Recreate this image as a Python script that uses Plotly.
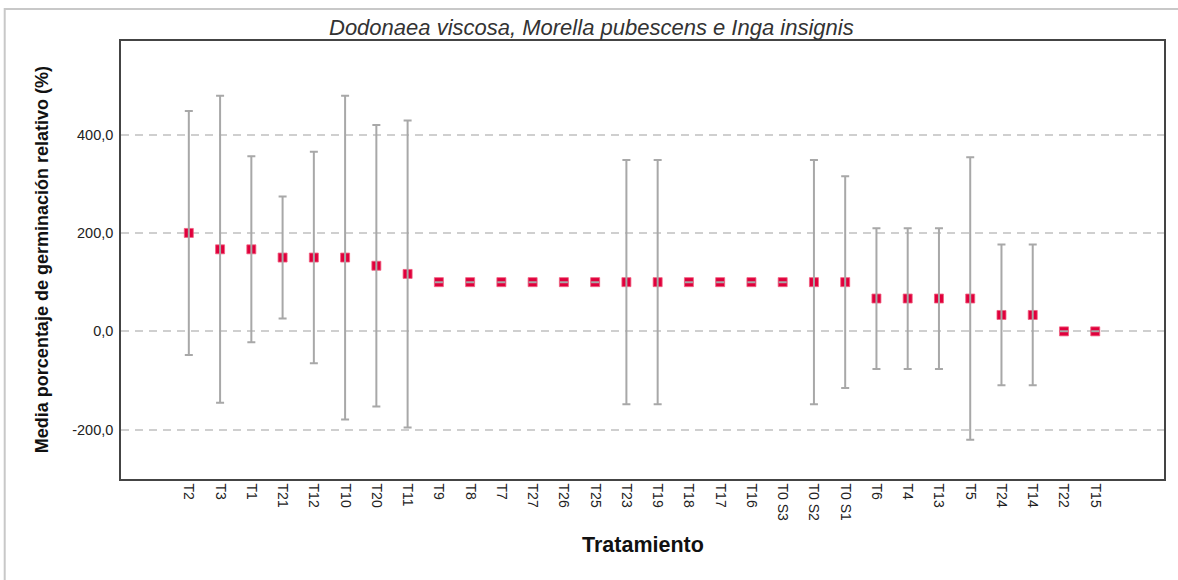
import plotly.graph_objects as go

tratamientos = ["T2", "T3", "T1", "T21", "T12", "T10", "T20", "T11", "T9", "T8",
                "T7", "T27", "T26", "T25", "T23", "T19", "T18", "T17", "T16", "T0 S3",
                "T0 S2", "T0 S1", "T6", "T4", "T13", "T5", "T24", "T14", "T22", "T15"]
medias = [200.0, 166.7, 166.7, 150.0, 150.0, 150.0, 133.3, 116.7, 100.0, 100.0,
          100.0, 100.0, 100.0, 100.0, 100.0, 100.0, 100.0, 100.0, 100.0, 100.0,
          100.0, 100.0, 66.7, 66.7, 66.7, 66.7, 33.3, 33.3, 0.0, 0.0]
error_ic = [248, 312, 189, 124, 215, 329, 286, 312, 0, 0,
            0, 0, 0, 0, 248, 248, 0, 0, 0, 0,
            248, 215, 143, 143, 143, 287, 143, 143, 0, 0]
y_ticks = [-200, 0, 200, 400]
y_ticklabels = ["-200,0", "0,0", "200,0", "400,0"]

FONT = "Arial, Liberation Sans, sans-serif"

fig = go.Figure()
fig.add_trace(go.Scatter(
    x=tratamientos, y=medias, mode="markers",
    marker=dict(symbol="square", size=9, color="#e0003c",
                line=dict(color="#f06080", width=0.8)),
    hoverinfo="skip", showlegend=False))
fig.add_trace(go.Scatter(
    x=tratamientos, y=medias, mode="markers",
    marker=dict(size=9, opacity=0),
    error_y=dict(type="data", array=error_ic, symmetric=True,
                 color="#a8a8a8", thickness=2, width=4),
    showlegend=False))

fig.update_layout(
    width=1178, height=580,
    margin=dict(l=121, r=12, t=41, b=101),
    paper_bgcolor="white", plot_bgcolor="white",
    font=dict(family=FONT, color="#222"),
    showlegend=False,
)
fig.update_xaxes(
    type="category", categoryorder="array", categoryarray=tratamientos,
    range=[-2.17, 31.2], tickangle=90, ticks="", showgrid=False,
    tickfont=dict(size=14, color="#222", family=FONT),
    showline=True, linecolor="#444", linewidth=1.5, mirror=True,
    zeroline=False,
)
fig.update_yaxes(
    range=[-300, 590], tickvals=y_ticks, ticktext=y_ticklabels, ticks="",
    tickfont=dict(size=14.5, color="#222", family=FONT), ticklabelstandoff=3,
    showgrid=True, gridcolor="#cfcfcf", gridwidth=1.5, griddash="8px,6px",
    showline=True, linecolor="#444", linewidth=1.5, mirror=True,
    zeroline=False,
)

# outer light frame
fig.add_shape(type="rect", xref="paper", yref="paper",
              x0=-0.1115, x1=1.03, y0=-0.25, y1=1.073,
              line=dict(color="#c8c8c8", width=2), layer="below")

fig.add_annotation(text="<i>Dodonaea viscosa, Morella pubescens e Inga insignis</i>",
                   xref="paper", yref="paper", x=0.4507, y=1.0297,
                   xanchor="center", yanchor="middle", showarrow=False,
                   font=dict(size=22, color="#333", family=FONT))
fig.add_annotation(text="<b>Media porcentaje de germinación relativo (%)</b>",
                   xref="paper", yref="paper", x=-0.0756, y=0.5,
                   xanchor="center", yanchor="middle", showarrow=False, textangle=-90,
                   font=dict(size=18, color="#111", family=FONT))
fig.add_annotation(text="<b>Tratamiento</b>",
                   xref="paper", yref="paper", x=0.5, y=-0.151,
                   xanchor="center", yanchor="middle", showarrow=False,
                   font=dict(size=21.5, color="#111", family=FONT))

fig.write_html("out.html", config={"displayModeBar": False},
               post_script="document.body.style.margin='0px';")
